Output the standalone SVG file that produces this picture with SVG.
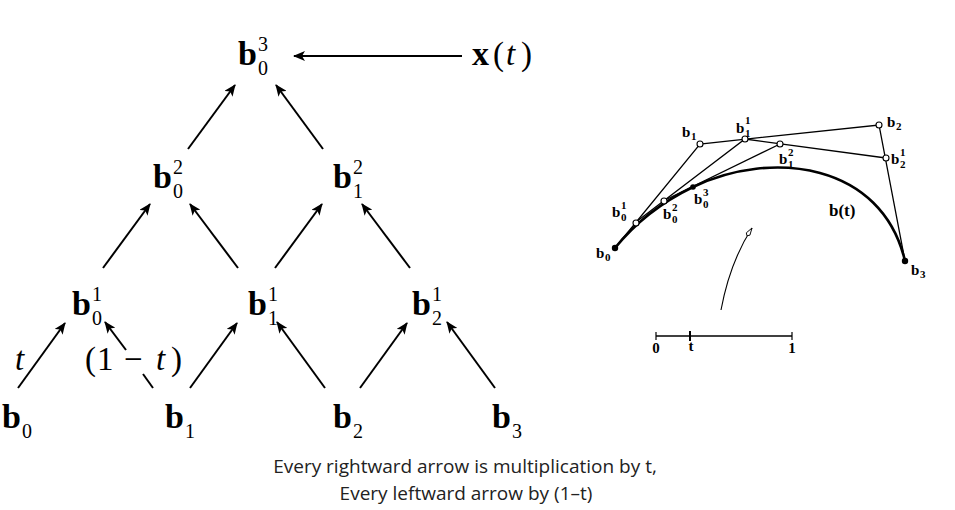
<svg xmlns="http://www.w3.org/2000/svg" width="955" height="510" viewBox="0 0 955 510">
<style>
.b{font-family:"Liberation Serif",serif;font-weight:bold;font-size:34px;fill:#000}
.s{font-family:"Liberation Serif",serif;font-size:20px;fill:#000}
.r{font-family:"Liberation Serif",serif;font-size:33px;fill:#000}
.i{font-family:"Liberation Serif",serif;font-style:italic;font-size:33px;fill:#000}
.arr line{stroke:#000;stroke-width:2;marker-end:url(#ah)}
.seg{stroke:#000;stroke-width:2}
.cap{font-family:"Open Sans","Liberation Sans",sans-serif;font-size:19px;fill:#222;text-anchor:middle}
.fb{font-family:"Liberation Serif",serif;font-weight:bold;font-size:15px;fill:#000}
.fs{font-family:"Liberation Serif",serif;font-weight:bold;font-size:11px;fill:#000}
.poly{fill:none;stroke:#000;stroke-width:1.3}
.oc{fill:#fff;stroke:#000;stroke-width:1.1}
.fc{fill:#000}
</style>
<defs>
<marker id="ah" viewBox="0 0 12 10" refX="11" refY="5" markerWidth="6" markerHeight="5" orient="auto" markerUnits="strokeWidth">
<path d="M0,0 L12,5 L0,10 L3,5 Z" fill="#000"/>
</marker>
<marker id="oh" viewBox="0 0 14 8" refX="13" refY="4" markerWidth="10" markerHeight="6" orient="auto" markerUnits="userSpaceOnUse">
<path d="M0,4 L3,1 L13,4 L3,7 Z" fill="#fff" stroke="#000" stroke-width="1.2"/>
</marker>
</defs>

<!-- Left pyramid nodes -->
<g id="b03"><text class="b" x="238" y="65">b</text><text class="s" x="258" y="51">3</text><text class="s" x="258" y="75">0</text></g>
<g id="xt"><text x="472" y="65"><tspan class="b">x</tspan><tspan class="r" x="493">(</tspan><tspan class="i" x="506">t</tspan><tspan class="r" x="521">)</tspan></text></g>
<g id="b02"><text class="b" x="153" y="188">b</text><text class="s" x="173" y="174">2</text><text class="s" x="173" y="198">0</text></g>
<g id="b12"><text class="b" x="333" y="188">b</text><text class="s" x="353" y="174">2</text><text class="s" x="353" y="198">1</text></g>
<g id="b01"><text class="b" x="72" y="315">b</text><text class="s" x="92" y="301">1</text><text class="s" x="92" y="325">0</text></g>
<g id="b11"><text class="b" x="248" y="315">b</text><text class="s" x="268" y="301">1</text><text class="s" x="268" y="325">1</text></g>
<g id="b21"><text class="b" x="412" y="315">b</text><text class="s" x="432" y="301">1</text><text class="s" x="432" y="325">2</text></g>
<g id="b0"><text class="b" x="2" y="428">b</text><text class="s" x="22" y="438">0</text></g>
<g id="b1"><text class="b" x="165" y="428">b</text><text class="s" x="185" y="438">1</text></g>
<g id="b2"><text class="b" x="333" y="428">b</text><text class="s" x="353" y="438">2</text></g>
<g id="b3"><text class="b" x="492" y="428">b</text><text class="s" x="512" y="438">3</text></g>

<!-- weight labels -->
<g id="lbl-t"><text class="i" x="15" y="370">t</text></g>
<g id="lbl-1mt"><text y="370"><tspan class="r" x="85">(</tspan><tspan class="r" x="97">1</tspan><tspan class="r" x="124">−</tspan><tspan class="i" x="156">t</tspan><tspan class="r" x="171">)</tspan></text></g>

<!-- connectors -->
<g id="connectors" class="arr">
<line x1="462" y1="56" x2="294" y2="56"/>
<line x1="188" y1="149" x2="235" y2="85"/>
<line x1="323" y1="149" x2="276" y2="85"/>
<line x1="103" y1="268" x2="150" y2="204"/>
<line x1="238" y1="268" x2="190" y2="204"/>
<line x1="275" y1="268" x2="322" y2="204"/>
<line x1="410" y1="268" x2="362" y2="204"/>
<line x1="18" y1="388" x2="65" y2="323"/>
<line x1="126" y1="350" x2="105" y2="322"/>
<line x1="190" y1="388" x2="237" y2="323"/>
<line x1="325" y1="388" x2="277" y2="322"/>
<line x1="360" y1="388" x2="407" y2="323"/>
<line x1="495" y1="388" x2="447" y2="322"/>
<line class="seg" x1="153" y1="388" x2="143" y2="374" style="marker-end:none"/>
</g>

<!-- Right figure: de Casteljau construction -->
<g id="casteljau">
<path class="poly" d="M615,248 L700,144 L879,125 L905,261"/>
<path class="poly" d="M636,222 L745,139 L886,158"/>
<path class="poly" d="M663,201 L780,144"/>
<path d="M615,248 C636,222 664,201 693,187 C772,149 882,163 905,261" fill="none" stroke="#000" stroke-width="2.6"/>
<circle class="fc" cx="615" cy="248" r="3.2"/>
<circle class="fc" cx="693" cy="187" r="2.8"/>
<circle class="fc" cx="905" cy="261" r="3.2"/>
<circle class="oc" cx="700" cy="144" r="3"/>
<circle class="oc" cx="879" cy="125" r="3"/>
<circle class="oc" cx="745" cy="139" r="3"/>
<circle class="oc" cx="886" cy="158" r="3"/>
<circle class="oc" cx="780" cy="144" r="3"/>
<circle class="oc" cx="636" cy="223" r="3"/>
<circle class="oc" cx="664" cy="201" r="3"/>
</g>
<g id="right-labels">
<text class="fb" x="596" y="258">b</text><text class="fs" x="605" y="261">0</text>
<text class="fb" x="682" y="137">b</text><text class="fs" x="691" y="140">1</text>
<text class="fb" x="736" y="133">b</text><text class="fs" x="745" y="124">1</text><text class="fs" x="745" y="137">1</text>
<text class="fb" x="887" y="127">b</text><text class="fs" x="896" y="130">2</text>
<text class="fb" x="891" y="164">b</text><text class="fs" x="900" y="156">1</text><text class="fs" x="900" y="168">2</text>
<text class="fb" x="779" y="164">b</text><text class="fs" x="788" y="156">2</text><text class="fs" x="788" y="168">1</text>
<text class="fb" x="612" y="217">b</text><text class="fs" x="621" y="209">1</text><text class="fs" x="621" y="221">0</text>
<text class="fb" x="663" y="219">b</text><text class="fs" x="672" y="211">2</text><text class="fs" x="672" y="223">0</text>
<text class="fb" x="694" y="204">b</text><text class="fs" x="703" y="196">3</text><text class="fs" x="703" y="208">0</text>
<text class="fb" x="911" y="275">b</text><text class="fs" x="920" y="278">3</text>
<text class="fb" x="829" y="216" style="font-size:17px">b(t)</text>
</g>
<g id="param-arrow">
<path d="M721,310 Q730,262 752,228" fill="none" stroke="#000" stroke-width="1.1" marker-end="url(#oh)"/>
</g>
<g id="scale">
<line x1="656" y1="336" x2="792" y2="336" stroke="#000" stroke-width="1.3"/>
<line x1="656" y1="332" x2="656" y2="340" stroke="#000" stroke-width="1.2"/>
<line x1="792" y1="332" x2="792" y2="340" stroke="#000" stroke-width="1.2"/>
<line x1="690" y1="331" x2="690" y2="341" stroke="#000" stroke-width="2"/>
<text class="fb" x="656" y="353" text-anchor="middle">0</text>
<text class="fb" x="691" y="351" text-anchor="middle">t</text>
<text class="fb" x="792" y="353" text-anchor="middle">1</text>
</g>

<g id="caption">
<text class="cap" x="465" y="473">Every rightward arrow is multiplication by t,</text>
<text class="cap" x="466" y="500">Every leftward arrow by (1–t)</text>
</g>
</svg>
